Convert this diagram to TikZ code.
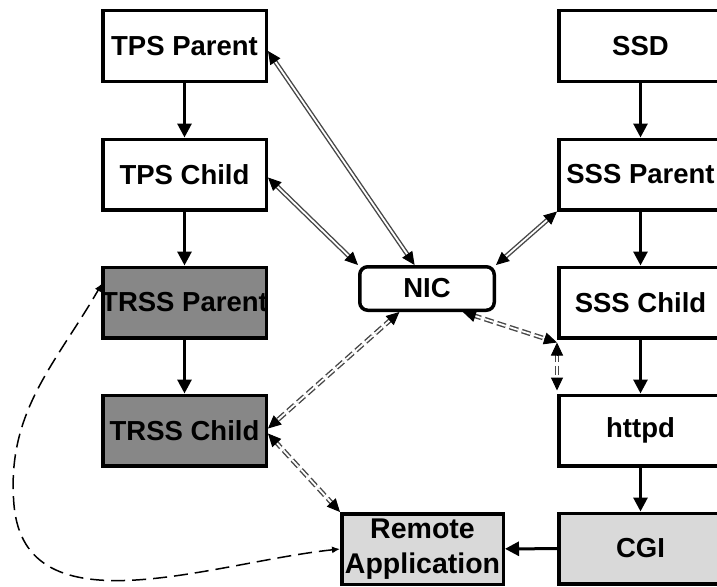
\documentclass[tikz,border=0pt]{standalone}
\usepackage{fontspec}
\setmainfont{Liberation Sans}
\usetikzlibrary{calc, arrows.meta, shapes}

\begin{document}
\begin{tikzpicture}[x=1pt, y=-1pt,
    box/.style={draw, line width=3.5pt, minimum width=163.5pt, minimum height=70.5pt,
      inner sep=0pt, font=\fontsize{27.5}{34}\selectfont\bfseries, align=center},
    flow/.style={line width=3pt, -{Triangle[length=14pt, width=14pt]}},
    link/.style={double=white, double distance=1.8pt, line width=1.4pt, draw=black!72,
      shorten <=10pt, shorten >=10pt},
    dlink/.style={link, dash pattern=on 9pt off 4pt},
    link_tip/.style={black, line width=1pt, -{Triangle[length=13pt, width=12pt]}}]

    \clip (0, 0) rectangle (717, 586);
    \fill[white] (0, 0) rectangle (717, 586);

    % left column
    \node[box] (tps_parent) at (184.5, 46) {TPS Parent};
    \node[box] (tps_child) at (184.5, 174.5) {TPS Child};
    \node[box, fill=black!47] (trss_parent) at (184.5, 302.5) {\makebox[0pt]{TRSS Parent}};
    \node[box, fill=black!47] (trss_child) at (184.5, 430.5) {\makebox[0pt]{TRSS Child}};

    % right column
    \node[box] (ssd) at (640.5, 46) {SSD};
    \node[box] (sss_parent) at (640.5, 174.5) {\makebox[0pt]{SSS Parent}};
    \node[box] (sss_child) at (640.5, 302.5) {SSS Child};
    \node[box] (httpd) at (640.5, 430.5) {httpd};
    \node[box, fill=black!15] (cgi) at (640.5, 548.5) {CGI};

    % middle
    \node[box, rounded corners=8pt, minimum width=134.5pt, minimum height=43.5pt] (nic) at (427, 288.5) {NIC};
    \node[box, fill=black!15, minimum width=161.5pt, font=\fontsize{28.5}{35}\selectfont\bfseries] (remote) at (422.5, 549)
      {\makebox[0pt]{Remote}\\\makebox[0pt]{Application}};

    % process flow
    \draw[flow] (tps_parent) -- (tps_child);
    \draw[flow] (tps_child) -- (trss_parent);
    \draw[flow] (trss_parent) -- (trss_child);
    \draw[flow] (ssd) -- (sss_parent);
    \draw[flow] (sss_parent) -- (sss_child);
    \draw[flow] (sss_child) -- (httpd);
    \draw[flow] (httpd) -- (cgi);
    \draw[flow] (cgi) -- (remote);

    % links through the NIC
    \coordinate (p_tps) at ($(tps_parent.east)+(0, 5)$);
    \coordinate (n_top) at ($(nic.north west)!0.41!(nic.north east)$);
    \coordinate (p_tpc) at ($(tps_child.east)+(0, 3)$);
    \coordinate (n_tl) at (nic.north west);
    \coordinate (n_tr) at (nic.north east);
    \coordinate (p_ssp) at (sss_parent.south west);
    \coordinate (n_bl) at ($(nic.south west)!0.3!(nic.south east)$);
    \coordinate (n_br) at ($(nic.south west)!0.76!(nic.south east)$);
    \coordinate (p_trc1) at ($(trss_child.east)+(0, -2)$);
    \coordinate (p_trc2) at ($(trss_child.east)+(0, 3)$);
    \coordinate (p_ssc) at ($(sss_child.south west)+(0, 3)$);
    \coordinate (p_htd) at ($(httpd.north west)+(0, -3)$);
    \coordinate (p_rem) at (remote.north west);

    \draw[link] (p_tps) -- (n_top);
    \draw[link] (p_tpc) -- (n_tl);
    \draw[link] (p_ssp) -- (n_tr);
    \draw[dlink] (n_bl) -- (p_trc1);
    \draw[dlink] (n_br) -- (p_ssc);
    \draw[dlink] (p_ssc) -- (p_htd);
    \draw[dlink] (p_trc2) -- (p_rem);

    % tips at both ends of each link
    \foreach \a/\b in {p_tps/n_top, p_tpc/n_tl, p_ssp/n_tr, n_bl/p_trc1, n_br/p_ssc, p_ssc/p_htd, p_trc2/p_rem} {
      \draw[link_tip] ($(\a)!13pt!(\b)$) -- (\a);
      \draw[link_tip] ($(\b)!13pt!(\a)$) -- (\b);
    }

    % remote control path
    \coordinate (c_bend) at (14, 505);
    \draw[line width=1.5pt, dash pattern=on 14pt off 7pt, {Latex[length=8pt, width=7pt]}-{Latex[length=8pt, width=7pt]}]
      (remote.west) to[out=186, in=-85] (c_bend) to[out=95, in=240] ($(trss_parent.north west)+(1, 18)$);
\end{tikzpicture}
\end{document}
